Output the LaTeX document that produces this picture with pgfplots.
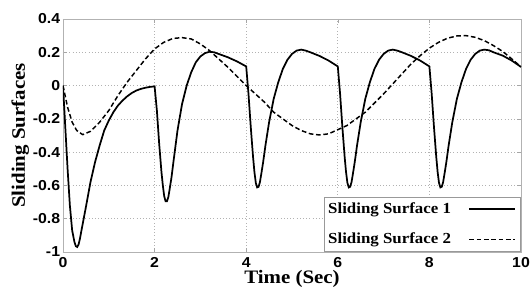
\documentclass[border=0pt]{standalone}
\usepackage{fontspec}
\setmainfont[FakeStretch=1.1]{Liberation Serif}
\setsansfont[FakeStretch=1.1]{Liberation Sans}
\usepackage{pgfplots}
\pgfplotsset{compat=1.18}
\begin{document}
\begin{tikzpicture}
\path[use as bounding box] (-47.25pt,-27pt) rectangle (351pt,189pt);
\begin{axis}[
  scale only axis,
  width=343.5pt, height=174.75pt,
  xmin=0, xmax=10, ymin=-1, ymax=0.4,
  xtick={0,2,4,6,8,10},
  xticklabels={0,2,4,6,8,10},
  ytick={-1,-0.8,-0.6,-0.4,-0.2,0,0.2,0.4},
  yticklabels={-1,-0.8,-0.6,-0.4,-0.2,0,0.2,0.4},
  ticklabel style={font=\sffamily\bfseries\fontsize{10.8}{12}\selectfont},
  yticklabel style={anchor=east, inner sep=0pt, xshift=-2pt},
  xticklabel style={anchor=north, inner sep=0pt, yshift=-4pt},
  tick align=inside, major tick length=3pt,
  tick style={gray!70, line width=0.4pt},
  axis line style={gray!60, line width=0.6pt},
  grid=major,
  major grid style={dotted, gray!60, line width=0.5pt},
  every axis x label/.style={at={([yshift=-23.6pt]axis description cs:0.5,0)}, anchor=base},
  every axis y label/.style={at={([xshift=-28.5pt]axis description cs:0,0.5)}, rotate=90, anchor=base},
  xlabel={\bfseries\fontsize{14.25}{16}\selectfont Time (Sec)},
  ylabel={\bfseries\fontsize{14.25}{16}\selectfont Sliding Surfaces},
  legend plot pos=right,
  legend cell align=left,
  legend image code/.code={\draw[#1] (0pt,0pt) -- (34pt,0pt); \path (37pt,0pt);},
  legend style={at={(axis description cs:1,0.003)}, anchor=south east, draw=gray!80, fill=white,
    font=\bfseries\fontsize{11.5}{13}\selectfont, inner xsep=1pt, inner ysep=2pt, row sep=9pt,
    /tikz/column sep=11pt},
]
\addplot[black, line width=1.3pt] coordinates {
(0,0) (0.05,-0.25) (0.1,-0.5) (0.15,-0.72) (0.2,-0.87) (0.25,-0.94) (0.28,-0.965) (0.31,-0.97)
(0.34,-0.955) (0.37,-0.92) (0.4,-0.875)
(0.5,-0.73) (0.6,-0.58) (0.7,-0.46) (0.8,-0.36) (0.9,-0.27) (1.0,-0.21) (1.1,-0.16) (1.2,-0.12)
(1.3,-0.09) (1.4,-0.065) (1.5,-0.045) (1.6,-0.03) (1.7,-0.02) (1.8,-0.013) (1.9,-0.008) (2.0,-0.005)
(2.05,-0.15) (2.1,-0.35) (2.15,-0.52) (2.18,-0.6) (2.21,-0.665) (2.24,-0.695) (2.27,-0.695)
(2.30,-0.67) (2.33,-0.62) (2.37,-0.55) (2.42,-0.44)
(2.5,-0.27) (2.6,-0.11) (2.7,0.0) (2.8,0.08) (2.9,0.14) (3.0,0.175) (3.1,0.195) (3.2,0.203) (3.3,0.2)
(3.4,0.19) (3.6,0.17) (3.8,0.145) (4.0,0.115)
(4.05,-0.05) (4.1,-0.25) (4.15,-0.43) (4.18,-0.52) (4.21,-0.585) (4.24,-0.612) (4.27,-0.608)
(4.30,-0.58) (4.33,-0.53) (4.37,-0.46) (4.42,-0.36)
(4.5,-0.22) (4.6,-0.08) (4.7,0.02) (4.8,0.1) (4.9,0.155) (5.0,0.19) (5.1,0.21) (5.2,0.216) (5.3,0.21)
(5.4,0.2) (5.6,0.178) (5.8,0.15) (6.0,0.115)
(6.05,-0.05) (6.1,-0.25) (6.15,-0.43) (6.18,-0.52) (6.21,-0.585) (6.24,-0.612) (6.27,-0.608)
(6.30,-0.58) (6.33,-0.53) (6.37,-0.46) (6.42,-0.36)
(6.5,-0.22) (6.6,-0.08) (6.7,0.02) (6.8,0.1) (6.9,0.155) (7.0,0.19) (7.1,0.21) (7.2,0.216) (7.3,0.21)
(7.4,0.2) (7.6,0.178) (7.8,0.15) (8.0,0.115)
(8.05,-0.05) (8.1,-0.25) (8.15,-0.43) (8.18,-0.52) (8.21,-0.585) (8.24,-0.612) (8.27,-0.608)
(8.30,-0.58) (8.33,-0.53) (8.37,-0.46) (8.42,-0.36)
(8.5,-0.22) (8.6,-0.08) (8.7,0.02) (8.8,0.1) (8.9,0.155) (9.0,0.19) (9.1,0.21) (9.2,0.216) (9.3,0.212)
(9.4,0.2) (9.6,0.18) (9.8,0.15) (10.0,0.112)
};
\addlegendentry{Sliding Surface 1}
\addplot[black, line width=1.1pt, dash pattern=on 3.5pt off 2pt] coordinates {
(0,0) (0.1,-0.13) (0.2,-0.22) (0.3,-0.27) (0.43,-0.295) (0.6,-0.275) (0.8,-0.22) (1.0,-0.15)
(1.2,-0.06) (1.4,0.02) (1.6,0.09) (1.8,0.16) (2.0,0.22) (2.2,0.26) (2.4,0.283) (2.6,0.288) (2.8,0.28)
(3.0,0.25) (3.2,0.21) (3.4,0.16) (3.6,0.11) (3.8,0.055) (4.0,0.0) (4.2,-0.05) (4.4,-0.1) (4.6,-0.16)
(4.8,-0.2) (5.0,-0.24) (5.2,-0.27) (5.4,-0.29) (5.6,-0.297) (5.8,-0.29) (6.0,-0.265) (6.2,-0.24)
(6.4,-0.2) (6.6,-0.16) (6.8,-0.105) (7.0,-0.05) (7.2,0.01) (7.4,0.07) (7.6,0.13) (7.8,0.18)
(8.0,0.225) (8.2,0.26) (8.4,0.285) (8.6,0.298) (8.8,0.3) (9.0,0.29) (9.2,0.27) (9.4,0.24)
(9.6,0.205) (9.8,0.16) (10.0,0.112)
};
\addlegendentry{Sliding Surface 2}
\end{axis}
\end{tikzpicture}
\end{document}
